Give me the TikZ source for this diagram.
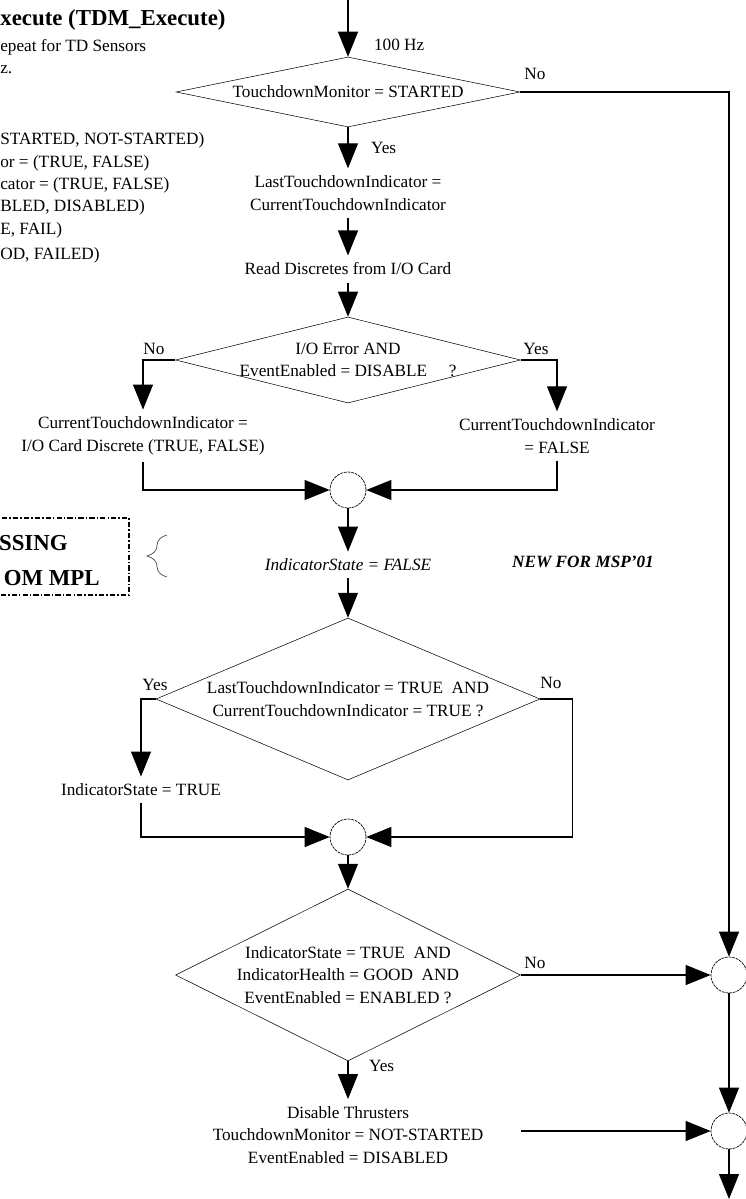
\documentclass[tikz,border=0pt]{standalone}
\usepackage{fontspec}
\setmainfont{Liberation Serif}
\usetikzlibrary{arrows.meta,calc,positioning,shapes.geometric,decorations.pathreplacing}

\newcommand{\dgmfont}{\fontsize{9.8}{12.8}\selectfont}

\begin{document}
\begin{tikzpicture}[
    x=0.02cm, y=-0.02cm,
    font=\dgmfont,
    txt/.style={align=center, inner xsep=2pt, inner ysep=4pt},
    tag/.style={inner sep=1pt},
    note/.style={anchor=west, inner sep=0pt},
    test/.style={
        draw,
        diamond,
        inner sep=-3cm,
        align=center,
        line width=0.3pt
    },
    junc/.style={
        draw,
        circle,
        minimum size=0.72cm,
        inner sep=0pt,
        line width=0.4pt,
        dash pattern=on 1.6pt off 0.5pt
    },
    arr/.style={-{Triangle[length=0.5cm, width=0.4cm]}, line width=0.6pt}
]
    \useasboundingbox (0,0) rectangle (745,1199);

    %% Header, cut off at the left edge
    \node[note, font=\fontsize{13}{15}\selectfont\bfseries] (title) at (0,20) {xecute (TDM\_Execute)};
    \node[note] (rep) at (0,47) {epeat for TD Sensors};
    \node[note] (rate) at (0,70) {z.};
    \node[note] (v1) at (0,140) {STARTED, NOT-STARTED)};
    \node[note] (v2) at (0,163) {or = (TRUE, FALSE)};
    \node[note] (v3) at (0,185) {cator = (TRUE, FALSE)};
    \node[note] (v4) at (0,207) {BLED, DISABLED)};
    \node[note] (v5) at (0,230) {E, FAIL)};
    \node[note] (v6) at (0,255) {OD, FAILED)};

    %% Box from MPL, cut off too
    \node[draw, line width=0.6pt, dash pattern=on 3pt off 1.2pt on 0.8pt off 1.2pt,
          minimum width=3cm, minimum height=1.54cm] (mplbox) at (54,556.5) {};
    \node[anchor=east, inner sep=0pt, font=\fontsize{13}{15}\selectfont\bfseries] (mpl1) at (68,543) {SSING};
    \node[anchor=east, inner sep=0pt, font=\fontsize{13}{15}\selectfont\bfseries] (mpl2) at (100,578) {OM MPL};
    \draw[black!70, line width=0.4pt, decorate, decoration={brace, amplitude=0.4cm}] (167,577) -- (167,535);

    %% Monitor started?
    \coordinate (entry) at (348,0);
    \node[tag, anchor=west] (hz) at (372,45) {100 Hz};
    \node[test, minimum width=6.88cm, minimum height=1.4cm] (mon) at (348,92) {TouchdownMonitor = STARTED};
    \node[tag] (mon-no) at (535,74) {No};
    \node[tag, anchor=west] (mon-yes) at (369,148) {Yes};
    \node[txt] (last) at (348,193) {LastTouchdownIndicator =\\CurrentTouchdownIndicator};
    \node[txt] (read) at (348,269) {Read Discretes from I/O Card};

    %% I/O check
    \node[test, minimum width=6.9cm, minimum height=1.72cm] (io) at (348,360) {I/O Error AND\\EventEnabled = DISABLE \quad ?};
    \node[tag] (io-no) at (154,349) {No};
    \node[tag] (io-yes) at (536,349) {Yes};
    \node[txt] (cur-io) at (143,436) {CurrentTouchdownIndicator =\\I/O Card Discrete (TRUE, FALSE)};
    \node[txt] (cur-f) at (557,436) {CurrentTouchdownIndicator\\= FALSE};
    \node[junc] (j1) at (348,490) {};
    \node[txt, font=\dgmfont\itshape] (st-f) at (348,565) {IndicatorState = FALSE};
    \node[tag, font=\dgmfont\bfseries\itshape] (msp) at (583,562) {NEW FOR MSP'01};

    %% Both indicators true?
    \node[test, minimum width=7.68cm, minimum height=3.24cm] (both) at (348,699) {LastTouchdownIndicator = TRUE \ AND\\CurrentTouchdownIndicator = TRUE ?};
    \node[tag] (both-yes) at (155,685) {Yes};
    \node[tag] (both-no) at (551,683) {No};
    \node[txt] (st-t) at (141,790) {IndicatorState = TRUE};
    \node[junc] (j2) at (348,837) {};

    %% Fire?
    \node[test, minimum width=6.9cm, minimum height=3.44cm] (fire) at (348,975) {IndicatorState = TRUE \ AND\\IndicatorHealth = GOOD \ AND\\EventEnabled = ENABLED ?};
    \node[tag] (fire-no) at (535,963) {No};
    \node[tag, anchor=west] (fire-yes) at (367,1066) {Yes};
    \node[txt] (dis) at (348,1135) {Disable Thrusters\\TouchdownMonitor = NOT-STARTED\\EventEnabled = DISABLED};
    \node[junc] (r1) at (729,975) {};
    \node[junc] (r2) at (729,1131) {};
    \coordinate (dis-out) at (521,1131);
    \coordinate (exit) at (729,1199);

    %% Arrows
    \draw[arr] (entry) -- (mon.north);
    \draw[arr] (mon.south) -- (last);
    \draw[arr] (last) -- (read);
    \draw[arr] (read) -- (io.north);
    \draw[arr] (io.west) -| (cur-io.north);
    \draw[arr] (io.east) -| (cur-f.north);
    \draw[arr] (cur-io.south) |- (j1);
    \draw[arr] (cur-f.south) |- (j1);
    \draw[arr] (j1) -- (st-f);
    \draw[arr] (st-f) -- (both.north);
    \draw[arr] (both.west) -| (st-t.north);
    \draw[arr] (both.east) -- ++(32,0) |- (j2);
    \draw[arr] (st-t.south) |- (j2);
    \draw[arr] (j2) -- (fire.north);
    \draw[arr] (fire.south) -- (dis);
    \draw[arr] (mon.east) -| (r1);
    \draw[arr] (fire.east) -- (r1);
    \draw[arr] (r1) -- (r2);
    \draw[arr] (dis-out) -- (r2);
    \draw[arr] (r2) -- (exit);
\end{tikzpicture}
\end{document}
